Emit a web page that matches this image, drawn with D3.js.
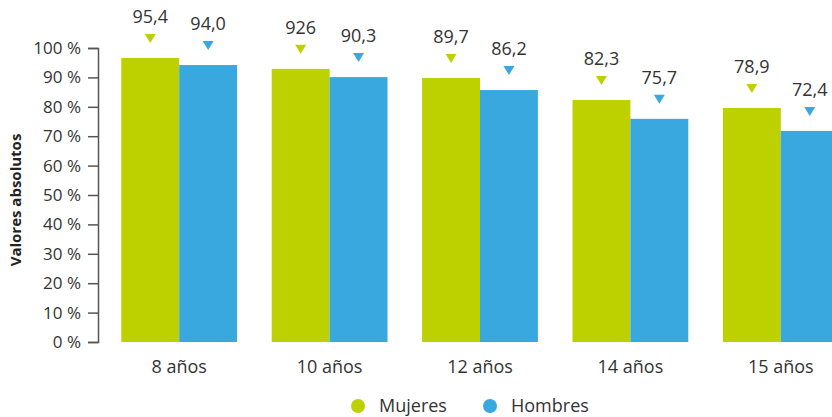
<!DOCTYPE html>
<html>
<head>
<meta charset="utf-8">
<script src="https://cdn.jsdelivr.net/npm/d3@7"></script>
<style>
  body { margin: 0; background: #fff; }
  text { font-family: "Open Sans", Lato, sans-serif; fill: #333; }
  .axis-title { font-weight: bold; font-size: 15px; fill: #222; }
</style>
</head>
<body>
<div class="svg-container"></div>
<script>
// categories and values
var categories = ["8 años", "10 años", "12 años", "14 años", "15 años"];
var mujeres = [96.6, 92.9, 89.8, 82.3, 79.6];   // bar heights (%)
var hombres = [94.2, 90.1, 85.7, 75.9, 71.8];
var mujeresLabels = ["95,4", "926", "89,7", "82,3", "78,9"];
var hombresLabels = ["94,0", "90,3", "86,2", "75,7", "72,4"];
var yTicks = [0, 10, 20, 30, 40, 50, 60, 70, 80, 90, 100];
var seriesNames = ["Mujeres", "Hombres"];
var seriesColors = ["#bdd000", "#38a8de"];

var width = 832, height = 417;

var svg = d3.select(".svg-container").append("svg")
  .attr("width", width)
  .attr("height", height);

var y = d3.scaleLinear().domain([0, 100]).range([342, 48]);

var x = d3.scaleBand()
  .domain(categories)
  .range([104, 856])
  .paddingInner(0.23)
  .paddingOuter(0.115);

var xSub = d3.scaleBand()
  .domain(seriesNames)
  .range([0, x.bandwidth()]);

// y axis
var yAxis = d3.axisLeft(y)
  .tickValues(yTicks)
  .tickSize(10)
  .tickPadding(7)
  .tickFormat(function(d) { return d + " %"; });

var yAxisG = svg.append("g")
  .attr("transform", "translate(98,0)")
  .call(yAxis);

yAxisG.select(".domain").attr("stroke", "#555").attr("stroke-width", 1.5);
yAxisG.selectAll(".tick line").attr("stroke", "#555").attr("stroke-width", 1.5);
yAxisG.selectAll(".tick text")
  .attr("font-size", 17)
  .attr("font-family", "'Open Sans', Lato, sans-serif")
  .style("fill", "#333");

// axis title
svg.append("text")
  .attr("class", "axis-title")
  .attr("transform", "translate(21,200) rotate(-90)")
  .attr("text-anchor", "middle")
  .text("Valores absolutos");

// build rows from the arrays
var rows = categories.map(function(c, i) {
  return {
    category: c,
    values: [
      {name: "Mujeres", value: mujeres[i], label: mujeresLabels[i], color: seriesColors[0]},
      {name: "Hombres", value: hombres[i], label: hombresLabels[i], color: seriesColors[1]}
    ]
  };
});

var groups = svg.selectAll("g.group")
  .data(rows)
  .enter()
  .append("g")
  .attr("class", "group")
  .attr("transform", function(d) { return "translate(" + x(d.category) + ",0)"; });

groups.selectAll("rect")
  .data(function(d) { return d.values; })
  .enter()
  .append("rect")
  .attr("x", function(d) { return xSub(d.name); })
  .attr("y", function(d) { return y(d.value); })
  .attr("width", xSub.bandwidth())
  .attr("height", function(d) { return y(0) - y(d.value); })
  .attr("fill", function(d) { return d.color; });

// marker triangles above bars
groups.selectAll("path.marker")
  .data(function(d) { return d.values; })
  .enter()
  .append("path")
  .attr("class", "marker")
  .attr("fill", function(d) { return d.color; })
  .attr("d", function(d) {
    var cx = xSub(d.name) + xSub.bandwidth() / 2;
    var bottom = y(d.value) - 15;
    return "M" + (cx - 5.5) + "," + (bottom - 9) + "L" + (cx + 5.5) + "," + (bottom - 9) + "L" + cx + "," + bottom + "Z";
  });

// value labels
groups.selectAll("text.value")
  .data(function(d) { return d.values; })
  .enter()
  .append("text")
  .attr("class", "value")
  .attr("text-anchor", "middle")
  .attr("font-size", 18)
  .attr("x", function(d) { return xSub(d.name) + xSub.bandwidth() / 2; })
  .attr("y", function(d) { return y(d.value) - 35; })
  .text(function(d) { return d.label; });

// category labels
svg.selectAll("text.cat")
  .data(categories)
  .enter()
  .append("text")
  .attr("class", "cat")
  .attr("text-anchor", "middle")
  .attr("font-size", 18)
  .attr("x", function(d) { return x(d) + x.bandwidth() / 2; })
  .attr("y", 373)
  .text(function(d) { return d; });

// legend
var legendX = [358, 490];
var legend = svg.selectAll("g.legend")
  .data(seriesNames)
  .enter()
  .append("g")
  .attr("class", "legend")
  .attr("transform", function(d, i) { return "translate(" + legendX[i] + ",406)"; });

legend.append("circle")
  .attr("r", 7)
  .attr("fill", function(d, i) { return seriesColors[i]; });

legend.append("text")
  .attr("x", 21)
  .attr("y", 6)
  .attr("font-size", 18)
  .text(function(d) { return d; });
</script>
</body>
</html>
